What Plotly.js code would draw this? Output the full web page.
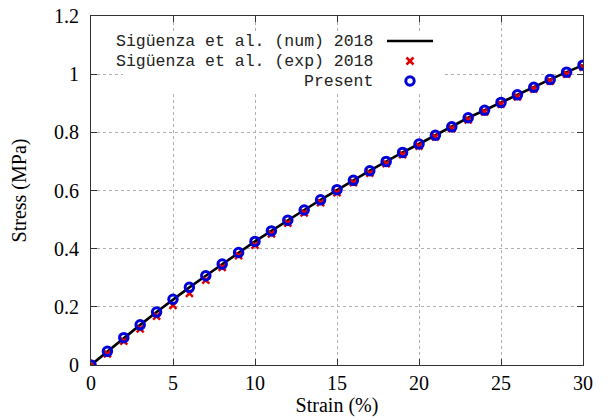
<!DOCTYPE html>
<html>
<head>
<meta charset="utf-8">
<script src="https://cdn.plot.ly/plotly-3.0.1.min.js"></script>
<style>html,body{margin:0;padding:0;background:#fff;}#chart{width:611px;height:420px;}</style>
</head>
<body>
<div id="chart"></div>
<script>
var strain = [0,1,2,3,4,5,6,7,8,9,10,11,12,13,14,15,16,17,18,19,20,21,22,23,24,25,26,27,28,29,30];
var stressNum = [0,0.047,0.094,0.138,0.182,0.226,0.267,0.307,0.347,0.387,0.425,0.461,0.498,0.533,0.568,0.603,0.635,0.668,0.700,0.731,0.760,0.790,0.819,0.850,0.876,0.903,0.929,0.955,0.982,1.007,1.031];
var stressExp = [0,0.038,0.082,0.124,0.168,0.205,0.246,0.292,0.336,0.376,0.412,0.451,0.488,0.523,0.558,0.593,0.627,0.660,0.692,0.723,0.753,0.784,0.813,0.843,0.870,0.897,0.922,0.949,0.976,1.000,1.024];
var stressPresent = [0,0.047,0.094,0.138,0.182,0.226,0.267,0.307,0.347,0.387,0.425,0.461,0.498,0.533,0.568,0.603,0.635,0.668,0.700,0.731,0.760,0.790,0.819,0.850,0.876,0.903,0.929,0.955,0.982,1.007,1.031];
var legendLabels = ['Sigüenza et al. (num) 2018','Sigüenza et al. (exp) 2018','Present'];
var xTickVals = [0,5,10,15,20,25,30];
var xTickText = ['0','5','10','15','20','25','30'];
var yTickVals = [0,0.2,0.4,0.6,0.8,1,1.2];
var yTickText = ['0','0.2','0.4','0.6','0.8','1','1.2'];

var RED = '#e00000', BLUE = '#0000d8';
var SERIF = '"Liberation Serif", "Times New Roman", Times, serif';

var traces = [
  {x: strain, y: stressNum, mode: 'lines', line: {color: '#000', width: 2.6}, showlegend: false, hoverinfo: 'skip'},
  {x: strain, y: stressExp, mode: 'markers', marker: {symbol: 'x-thin-open', size: 7, color: RED, line: {color: RED, width: 2.5}}, showlegend: false},
  {x: strain, y: stressPresent, mode: 'markers', marker: {symbol: 'circle-open', size: 8.5, color: BLUE, line: {color: BLUE, width: 3}}, showlegend: false}
];

var L = 91, R = 583, T = 16, B = 365;
function px(v){ return (v - L) / (R - L); }
function py(v){ return (B - v) / (B - T); }

var shapes = [
  {type: 'rect', xref: 'paper', yref: 'paper', x0: px(123), x1: px(443), y0: py(93), y1: py(32), fillcolor: '#fff', line: {width: 0}, layer: 'above'},
  {type: 'line', xref: 'paper', yref: 'paper', x0: px(387), x1: px(433), y0: py(41), y1: py(41), line: {color: '#000', width: 2.6}, layer: 'above'},
  {type: 'line', xref: 'paper', yref: 'paper', x0: px(406.5), x1: px(413.5), y0: py(57.5), y1: py(64.5), line: {color: RED, width: 2.5}, layer: 'above'},
  {type: 'line', xref: 'paper', yref: 'paper', x0: px(406.5), x1: px(413.5), y0: py(64.5), y1: py(57.5), line: {color: RED, width: 2.5}, layer: 'above'},
  {type: 'circle', xref: 'paper', yref: 'paper', x0: px(405.8), x1: px(414.2), y0: py(85.2), y1: py(76.8), line: {color: BLUE, width: 3}, fillcolor: 'rgba(0,0,0,0)', layer: 'above'}
];

var annYs = [42, 62, 82];
var annotations = legendLabels.map(function(t, i){
  return {text: t, xref: 'paper', yref: 'paper', x: px(375), y: py(annYs[i]), xanchor: 'right', yanchor: 'middle', showarrow: false,
          font: {family: '"Liberation Mono", "Courier New", monospace', size: 16.5, color: '#222'}};
});

function axis(extra){
  var a = {
    showline: true, linecolor: '#333', linewidth: 1, mirror: 'ticks',
    ticks: 'inside', ticklen: 6, tickcolor: '#333', tickwidth: 1,
    showgrid: true, gridcolor: '#b0b0b0', griddash: 'dot', gridwidth: 1,
    zeroline: false, tickfont: {family: SERIF, size: 20, color: '#000'}
  };
  for (var k in extra) a[k] = extra[k];
  return a;
}

var layout = {
  width: 611, height: 420,
  font: {family: SERIF, size: 20, color: '#000'},
  margin: {l: L, r: 611 - R, t: T, b: 420 - B},
  paper_bgcolor: '#fff', plot_bgcolor: '#fff',
  showlegend: false,
  xaxis: axis({range: [0, 30], tickmode: 'array', tickvals: xTickVals, ticktext: xTickText, ticklabelstandoff: 0,
    title: {text: 'Strain (%)', font: {family: SERIF, size: 20, color: '#000'}, standoff: 1}}),
  yaxis: axis({range: [0, 1.2], tickmode: 'array', tickvals: yTickVals, ticktext: yTickText, ticklabelstandoff: 7,
    title: {text: 'Stress (MPa)', font: {family: SERIF, size: 20, color: '#000'}, standoff: 22}}),
  shapes: shapes,
  annotations: annotations
};

Plotly.newPlot('chart', traces, layout, {staticPlot: true, displayModeBar: false});
</script>
</body>
</html>
